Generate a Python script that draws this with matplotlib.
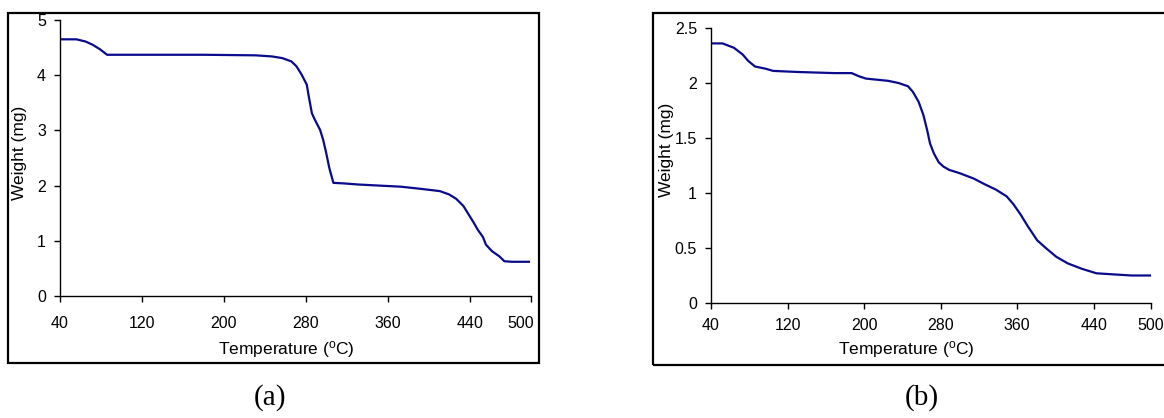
import matplotlib
matplotlib.use("Agg")
import matplotlib.pyplot as plt
from matplotlib.patches import Rectangle
import matplotlib.transforms as mtransforms

# (a) TGA curve
temp_a = [40, 56, 65, 72, 79, 86, 120, 180, 231, 247, 257, 266, 271, 276, 281,
          283, 286, 289, 294, 297, 300, 303, 307, 317, 331, 352, 373, 393, 411,
          420, 427, 434, 439, 444, 448, 453, 456, 462, 469, 474, 481, 498]
weight_a = [4.65, 4.65, 4.61, 4.55, 4.47, 4.37, 4.37, 4.37, 4.36, 4.34, 4.31,
            4.25, 4.16, 4.01, 3.83, 3.61, 3.31, 3.19, 3.01, 2.83, 2.59, 2.32,
            2.05, 2.04, 2.02, 2.00, 1.98, 1.94, 1.90, 1.84, 1.76, 1.63, 1.48,
            1.33, 1.20, 1.07, 0.93, 0.81, 0.72, 0.63, 0.62, 0.62]

# (b) TGA curve
temp_b = [40, 52, 64, 73, 79, 86, 97, 105, 131, 169, 187, 195, 202, 225, 236,
          246, 251, 257, 262, 266, 269, 273, 278, 283, 289, 300, 315, 326, 338,
          349, 356, 364, 371, 381, 390, 401, 413, 428, 443, 461, 480, 499]
weight_b = [2.36, 2.36, 2.32, 2.26, 2.20, 2.15, 2.13, 2.11, 2.10, 2.09, 2.09,
            2.06, 2.04, 2.02, 2.00, 1.97, 1.92, 1.83, 1.71, 1.57, 1.45, 1.36,
            1.28, 1.24, 1.21, 1.18, 1.13, 1.08, 1.03, 0.97, 0.90, 0.80, 0.70,
            0.57, 0.50, 0.42, 0.36, 0.31, 0.27, 0.26, 0.25, 0.25]

xticks = [40, 120, 200, 280, 360, 440, 500]
yticks_a = [0, 1, 2, 3, 4, 5]
yticks_b = [0, 0.5, 1, 1.5, 2, 2.5]
ytick_labels_b = ["0", "0.5", "1", "1.5", "2", "2.5"]

plt.rcParams["font.family"] = ["Liberation Sans", "DejaVu Sans"]
plt.rcParams["mathtext.fontset"] = "custom"
plt.rcParams["mathtext.rm"] = "Liberation Sans"

W, H = 1164, 418
fig = plt.figure(figsize=(W / 100, H / 100), dpi=100)

def px_axes(x0, x1, y0, y1):
    # pixel box -> figure fraction
    return [x0 / W, 1 - y1 / H, (x1 - x0) / W, (y1 - y0) / H]

line_color = "#0a0a8c"
fs = 12.5
tick_fs = 11.5

def style(ax, yticks, ylabels, ymax, xpad):
    ax.set_xlim(40, 500)
    ax.set_ylim(0, ymax)
    ax.set_xticks(xticks)
    ax.set_yticks(yticks)
    ax.set_yticklabels(ylabels)
    for s in ["top", "right"]:
        ax.spines[s].set_visible(False)
    for s in ["left", "bottom"]:
        ax.spines[s].set_linewidth(1.0)
    ax.tick_params(direction="out", length=4, width=1.0, labelsize=tick_fs)
    ax.tick_params(axis="y", pad=6)
    ax.tick_params(axis="x", pad=xpad)

ax1 = fig.add_axes(px_axes(60, 531, 20, 296))
ax1.plot(temp_a, weight_a, color=line_color, lw=1.6)
style(ax1, yticks_a, [str(v) for v in yticks_a], 5, 10.5)
lab = ax1.get_xticklabels()[-1]
lab.set_transform(lab.get_transform() + mtransforms.ScaledTranslation(-10 / 100, 0, fig.dpi_scale_trans))

ax2 = fig.add_axes(px_axes(711, 1151, 28, 303))
ax2.plot(temp_b, weight_b, color=line_color, lw=1.6)
style(ax2, yticks_b, ytick_labels_b, 2.5, 6.5)

# axis titles
xlab = "Temperature ($\\mathregular{^o}$C)"
fig.text(286 / W, 1 - 350 / H, xlab, ha="center", va="center", fontsize=fs)
fig.text(906 / W, 1 - 350 / H, xlab, ha="center", va="center", fontsize=fs)
fig.text(20 / W, 1 - 153 / H, "Weight (mg)", ha="center", va="center", rotation=90, fontsize=fs)
fig.text(667 / W, 1 - 150 / H, "Weight (mg)", ha="center", va="center", rotation=90, fontsize=fs)

# chart area borders
fig.patches.append(Rectangle((8 / W, 1 - 363 / H), 531 / W, 350 / H, transform=fig.transFigure,
                             fill=False, edgecolor="black", lw=1.6))
fig.patches.append(Rectangle((653 / W, 1 - 365 / H), 513 / W, 352 / H, transform=fig.transFigure,
                             fill=False, edgecolor="black", lw=1.6))

fig.text(270 / W, 1 - 398 / H, "(a)", ha="center", va="center", fontsize=21, family="Liberation Serif")
fig.text(922 / W, 1 - 398 / H, "(b)", ha="center", va="center", fontsize=21, family="Liberation Serif")

fig.savefig("out.png", dpi=100)
